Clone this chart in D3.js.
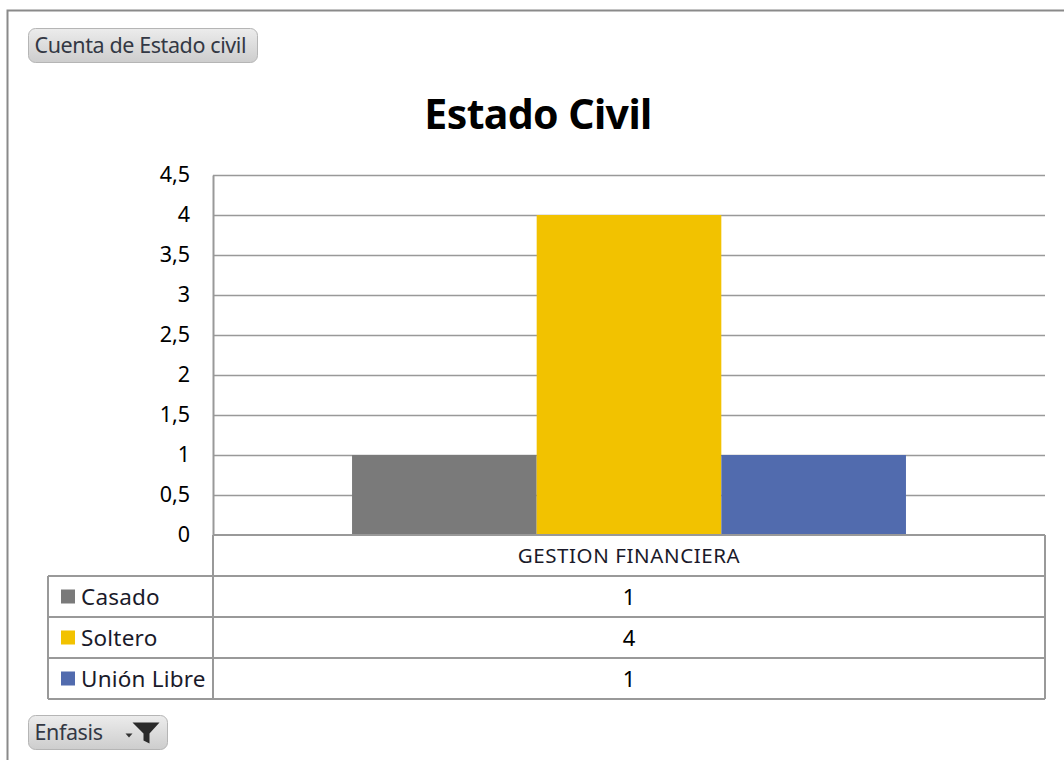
<!DOCTYPE html>
<html>
<head>
<meta charset="utf-8">
<script src="https://cdn.jsdelivr.net/npm/d3@7"></script>
<style>
  body { margin: 0; background: #fff; }
  svg { display: block; font-family: "Noto Sans", Lato, sans-serif; }
</style>
</head>
<body>
<div id="chart"></div>
<script>
const categories = ["GESTION FINANCIERA"];
const series_names = ["Casado", "Soltero", "Unión Libre"];
const series_colors = ["#7a7a7a", "#f2c200", "#516bae"];
const series_values = [[1], [4], [1]];
const y_ticks = [0, 0.5, 1, 1.5, 2, 2.5, 3, 3.5, 4, 4.5];

const width = 1064;
const height = 760;

const plot = { left: 213, right: 1045, top: 175, bottom: 535 };
const row_h = 41;
const legend_left = 48;

const svg = d3.select("#chart")
  .append("svg")
  .attr("width", width)
  .attr("height", height);

// gradient for the pivot buttons
const grad = svg.append("defs").append("linearGradient")
  .attr("id", "btn").attr("x1", 0).attr("y1", 0).attr("x2", 0).attr("y2", 1);
grad.append("stop").attr("offset", "0%").attr("stop-color", "#ececec");
grad.append("stop").attr("offset", "100%").attr("stop-color", "#cdcdcd");

// outer frame
svg.append("path")
  .attr("d", `M7.5,${height} V10.5 H${width}`)
  .attr("fill", "none")
  .attr("stroke", "#8a8a8a")
  .attr("stroke-width", 2);

// field buttons
const button = (x, y, w, h, label, size) => {
  const g = svg.append("g").attr("transform", `translate(${x},${y})`);
  g.append("rect")
    .attr("width", w).attr("height", h)
    .attr("rx", 7)
    .attr("fill", "url(#btn)")
    .attr("stroke", "#b5b5b5");
  g.append("text")
    .attr("x", 6).attr("y", h / 2 + 7)
    .attr("font-size", size)
    .attr("letter-spacing", -0.4)
    .attr("fill", "#333844")
    .text(label);
  return g;
}

button(28.5, 28.5, 229, 34, "Cuenta de Estado civil", 21.5);
const filt = button(28.5, 715.5, 139, 34, "Enfasis", 21.5);
// dropdown arrow + funnel
filt.append("path")
  .attr("d", "M97,18 h7 l-3.5,4 z")
  .attr("fill", "#333");
filt.append("path")
  .attr("d", "M104,7 h27 l-10,11 v10 l-6,-3 v-7 z")
  .attr("fill", "#2a2a2a");

// title
svg.append("text")
  .attr("x", 538)
  .attr("y", 129)
  .attr("text-anchor", "middle")
  .attr("font-size", 41)
  .attr("font-weight", "bold")
  .attr("letter-spacing", -0.6)
  .attr("fill", "#000")
  .text("Estado Civil");

// scales
const y = d3.scaleLinear()
  .domain([0, 4.5])
  .range([plot.bottom, plot.top]);

const x0 = d3.scaleBand()
  .domain(categories)
  .range([plot.left, plot.right])
  .paddingInner(0)
  .paddingOuter(0.251);

const x1 = d3.scaleBand()
  .domain(series_names)
  .range([0, x0.bandwidth()]);

const fmt = d3.formatLocale({ decimal: ",", thousands: ".", grouping: [3], currency: ["", "€"] }).format("~g");

// gridlines
svg.append("g")
  .selectAll("line")
  .data(y_ticks.filter((d) => d > 0))
  .enter()
  .append("line")
  .attr("x1", plot.left)
  .attr("x2", plot.right)
  .attr("y1", (d) => Math.round(y(d)) + 0.5)
  .attr("y2", (d) => Math.round(y(d)) + 0.5)
  .attr("stroke", "#999")
  .attr("stroke-width", 1.5);

// bars
const bars = [];
series_names.forEach((s, i) => {
  categories.forEach((c, j) => {
    bars.push({ series: s, cat: c, value: series_values[i][j], color: series_colors[i] });
  });
});

svg.append("g")
  .selectAll("rect")
  .data(bars)
  .enter()
  .append("rect")
  .attr("x", (d) => x0(d.cat) + x1(d.series))
  .attr("width", x1.bandwidth())
  .attr("y", (d) => y(d.value))
  .attr("height", (d) => y(0) - y(d.value))
  .attr("fill", (d) => d.color);

// y axis
const yAxis = svg.append("g")
  .attr("transform", `translate(${plot.left},0)`)
  .call(d3.axisLeft(y).tickValues(y_ticks).tickFormat(fmt).tickSize(0).tickPadding(23));
yAxis.select(".domain").attr("stroke", "#999").attr("stroke-width", 2);
yAxis.selectAll("text")
  .attr("font-size", 21.5)
  .attr("font-family", "'Noto Sans', Lato, sans-serif")
  .attr("fill", "#000");

// data table
const table = svg.append("g")
  .attr("fill", "none")
  .attr("stroke", "#999")
  .attr("stroke-width", 2);

const table_bottom = plot.bottom + row_h * (series_names.length + 1);

// verticals
table.append("line")
  .attr("x1", plot.left).attr("x2", plot.left)
  .attr("y1", plot.bottom).attr("y2", table_bottom);
table.append("line")
  .attr("x1", plot.right).attr("x2", plot.right)
  .attr("y1", plot.bottom).attr("y2", table_bottom);
table.append("line")
  .attr("x1", legend_left).attr("x2", legend_left)
  .attr("y1", plot.bottom + row_h).attr("y2", table_bottom);

// horizontals
table.append("line")
  .attr("x1", plot.left).attr("x2", plot.right)
  .attr("y1", plot.bottom).attr("y2", plot.bottom);
d3.range(series_names.length + 1).forEach((i) => {
  table.append("line")
    .attr("x1", legend_left).attr("x2", plot.right)
    .attr("y1", plot.bottom + row_h * (i + 1))
    .attr("y2", plot.bottom + row_h * (i + 1));
});

// header label
svg.selectAll("text.cat")
  .data(categories)
  .enter()
  .append("text")
  .attr("class", "cat")
  .attr("x", (d) => x0(d) + x0.bandwidth() / 2)
  .attr("y", plot.bottom + row_h / 2 + 7)
  .attr("text-anchor", "middle")
  .attr("font-size", 20.5)
  .attr("letter-spacing", 0.6)
  .attr("fill", "#1a1a2a")
  .text((d) => d);

// legend rows + values
series_names.forEach((s, i) => {
  const cy = plot.bottom + row_h * (i + 1) + row_h / 2;
  svg.append("rect")
    .attr("x", 61).attr("y", cy - 7)
    .attr("width", 14).attr("height", 14)
    .attr("fill", series_colors[i]);
  svg.append("text")
    .attr("x", 81).attr("y", cy + 8)
    .attr("font-size", 22.5)
    .attr("letter-spacing", 0.2)
    .attr("fill", "#1a1a2a")
    .text(s);
  categories.forEach((c, j) => {
    svg.append("text")
      .attr("x", x0(c) + x0.bandwidth() / 2)
      .attr("y", cy + 8)
      .attr("text-anchor", "middle")
      .attr("font-size", 22)
      .attr("fill", "#000")
      .text(series_values[i][j]);
  });
});
</script>
</body>
</html>
